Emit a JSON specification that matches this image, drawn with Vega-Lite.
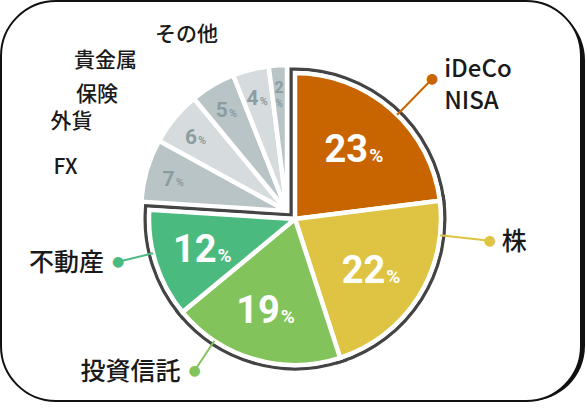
{
  "$schema": "https://vega.github.io/schema/vega-lite/v6.json",
  "width": 580,
  "height": 400,
  "autosize": {"type": "none"},
  "padding": {"left": 1, "top": 1, "right": 6, "bottom": 8},
  "background": "#ffffff",
  "data": {
    "values": [
      {"name": "iDeCo\nNISA", "value": 23, "group": "c"},
      {"name": "株", "value": 22, "group": "c"},
      {"name": "投資信託", "value": 19, "group": "c"},
      {"name": "不動産", "value": 12, "group": "c"},
      {"name": "FX", "value": 7, "group": "g"},
      {"name": "外貨", "value": 6, "group": "g"},
      {"name": "保険", "value": 5, "group": "g"},
      {"name": "貴金属", "value": 4, "group": "g"},
      {"name": "その他", "value": 2, "group": "g"}
    ]
  },
  "layer": [
    {
      "data": {"values": [{}]},
      "mark": {"type": "rect", "fill": "#111", "cornerRadius": 55, "xOffset": 4, "x2Offset": 4, "yOffset": 4, "y2Offset": 4},
      "encoding": {}
    },
    {
      "data": {"values": [{}]},
      "mark": {"type": "rect", "fill": "#fff", "stroke": "#111", "strokeWidth": 2, "cornerRadius": 55},
      "encoding": {}
    },
    {
      "mark": {"type": "arc", "radius": 146, "stroke": "#fff", "strokeWidth": 4.5, "xOffset": -4, "yOffset": 10},
      "encoding": {
        "theta": {"field": "value", "type": "quantitative", "stack": true},
        "order": {"field": "value", "type": "quantitative", "sort": "descending"},
        "color": {
          "field": "name", "type": "nominal", "legend": null,
          "scale": {
            "domain": ["iDeCo\nNISA", "株", "投資信託", "不動産", "FX", "外貨", "保険", "貴金属", "その他"],
            "range": ["#c96500", "#dfc443", "#83c35b", "#4bba7f", "#b9c4c6", "#d6dcde", "#b9c4c6", "#d6dcde", "#b9c4c6"]
          }
        },
        "opacity": {"condition": {"test": "datum.group == 'g'", "value": 1}, "value": 0}
      }
    },
    {
      "mark": {"type": "arc", "radius": 146, "fill": "#444", "stroke": "#444", "strokeWidth": 11, "strokeJoin": "miter", "xOffset": 4, "yOffset": 18},
      "encoding": {
        "theta": {"field": "value", "type": "quantitative", "stack": true},
        "order": {"field": "value", "type": "quantitative", "sort": "descending"},
        "opacity": {"condition": {"test": "datum.group == 'c'", "value": 1}, "value": 0}
      }
    },
    {
      "mark": {"type": "arc", "radius": 146, "fill": "#fff", "stroke": "#fff", "strokeWidth": 4, "strokeJoin": "miter", "xOffset": 4, "yOffset": 18},
      "encoding": {
        "theta": {"field": "value", "type": "quantitative", "stack": true},
        "order": {"field": "value", "type": "quantitative", "sort": "descending"},
        "opacity": {"condition": {"test": "datum.group == 'c'", "value": 1}, "value": 0}
      }
    },
    {
      "mark": {"type": "arc", "radius": 146, "stroke": "#fff", "strokeWidth": 4.5, "xOffset": 4, "yOffset": 18},
      "encoding": {
        "theta": {"field": "value", "type": "quantitative", "stack": true},
        "order": {"field": "value", "type": "quantitative", "sort": "descending"},
        "color": {"field": "name", "type": "nominal", "legend": null},
        "opacity": {"condition": {"test": "datum.group == 'c'", "value": 1}, "value": 0}
      }
    },
    {
      "mark": {"type": "text", "radius": 94, "font": "Roboto", "fontWeight": "bold", "fontSize": 38, "color": "#fff", "align": "right", "baseline": "alphabetic", "dx": 11, "dy": 14, "xOffset": 4, "yOffset": 18},
      "encoding": {
        "theta": {"field": "value", "type": "quantitative", "stack": true},
        "order": {"field": "value", "type": "quantitative", "sort": "descending"},
        "text": {"field": "value", "type": "quantitative"},
        "opacity": {"condition": {"test": "datum.group == 'c'", "value": 1}, "value": 0}
      }
    },
    {
      "mark": {"type": "text", "radius": 94, "font": "Roboto", "fontWeight": "bold", "fontSize": 19, "color": "#fff", "align": "left", "baseline": "alphabetic", "dx": 12, "dy": 14, "xOffset": 4, "yOffset": 18},
      "encoding": {
        "theta": {"field": "value", "type": "quantitative", "stack": true},
        "order": {"field": "value", "type": "quantitative", "sort": "descending"},
        "text": {"value": "%"},
        "opacity": {"condition": {"test": "datum.group == 'c'", "value": 1}, "value": 0}
      }
    },
    {
      "mark": {"type": "text", "radius": 118, "font": "Roboto", "fontWeight": "bold", "fontSize": 21, "color": "#8c9da1", "align": "right", "baseline": "alphabetic", "dx": 1, "dy": 8, "xOffset": -4, "yOffset": 10},
      "encoding": {
        "theta": {"field": "value", "type": "quantitative", "stack": true},
        "order": {"field": "value", "type": "quantitative", "sort": "descending"},
        "text": {"field": "value", "type": "quantitative"},
        "opacity": {"condition": {"test": "datum.group == 'g' && datum.name != 'その他'", "value": 1}, "value": 0}
      }
    },
    {
      "mark": {"type": "text", "radius": 118, "font": "Roboto", "fontWeight": "bold", "fontSize": 11, "color": "#8c9da1", "align": "left", "baseline": "alphabetic", "dx": 2, "dy": 8, "xOffset": -4, "yOffset": 10},
      "encoding": {
        "theta": {"field": "value", "type": "quantitative", "stack": true},
        "order": {"field": "value", "type": "quantitative", "sort": "descending"},
        "text": {"value": "%"},
        "opacity": {"condition": {"test": "datum.group == 'g' && datum.name != 'その他'", "value": 1}, "value": 0}
      }
    },
    {
      "mark": {"type": "text", "radius": 124, "font": "Roboto", "fontWeight": "bold", "fontSize": 16, "color": "#8c9da1", "align": "center", "baseline": "alphabetic", "dy": 6, "xOffset": -4, "yOffset": 10},
      "encoding": {
        "theta": {"field": "value", "type": "quantitative", "stack": true},
        "order": {"field": "value", "type": "quantitative", "sort": "descending"},
        "text": {"field": "value", "type": "quantitative"},
        "opacity": {"condition": {"test": "datum.name == 'その他'", "value": 1}, "value": 0}
      }
    },
    {
      "mark": {"type": "text", "radius": 124, "font": "Roboto", "fontWeight": "bold", "fontSize": 10, "color": "#8c9da1", "align": "center", "baseline": "alphabetic", "dy": 20, "xOffset": -4, "yOffset": 10},
      "encoding": {
        "theta": {"field": "value", "type": "quantitative", "stack": true},
        "order": {"field": "value", "type": "quantitative", "sort": "descending"},
        "text": {"value": "%"},
        "opacity": {"condition": {"test": "datum.name == 'その他'", "value": 1}, "value": 0}
      }
    },
    {
      "mark": {"type": "arc", "radius": 196, "radius2": 146, "padAngle": 1.1648, "fillOpacity": 0, "strokeWidth": 2, "xOffset": 4, "yOffset": 18},
      "encoding": {
        "theta": {"field": "value", "type": "quantitative", "stack": true, "scale": {"range": [0.3115, 4.341]}},
        "order": {"field": "value", "type": "quantitative", "sort": "descending"},
        "stroke": {
          "field": "name", "type": "nominal", "legend": null,
          "scale": {
            "domain": ["iDeCo\nNISA", "株", "投資信託", "不動産", "FX", "外貨", "保険", "貴金属", "その他"],
            "range": ["#c96500", "#dfc443", "#83c35b", "#4bba7f", "#b9c4c6", "#d6dcde", "#b9c4c6", "#d6dcde", "#b9c4c6"]
          }
        },
        "opacity": {"condition": {"test": "datum.name == 'iDeCo\\nNISA' || datum.name == '株'", "value": 1}, "value": 0}
      }
    },
    {
      "mark": {"type": "text", "radius": 196, "font": "DejaVu Sans", "fontSize": 14, "align": "center", "baseline": "middle", "xOffset": 4, "yOffset": 18},
      "encoding": {
        "theta": {"field": "value", "type": "quantitative", "stack": true, "scale": {"range": [0.3115, 4.341]}},
        "order": {"field": "value", "type": "quantitative", "sort": "descending"},
        "text": {"value": "●"},
        "color": {"field": "name", "type": "nominal", "legend": null},
        "opacity": {"condition": {"test": "datum.name == 'iDeCo\\nNISA' || datum.name == '株'", "value": 1}, "value": 0}
      }
    },
    {
      "mark": {"type": "text", "radius": 196, "font": "Noto Sans CJK JP", "fontWeight": 500, "fontSize": 24, "color": "#1a1a1a", "align": "left", "baseline": "middle", "dx": 12, "dy": -9, "lineBreak": "\n", "lineHeight": 32, "xOffset": 4, "yOffset": 18},
      "encoding": {
        "theta": {"field": "value", "type": "quantitative", "stack": true, "scale": {"range": [0.3115, 4.341]}},
        "order": {"field": "value", "type": "quantitative", "sort": "descending"},
        "text": {"field": "name", "type": "nominal"},
        "opacity": {"condition": {"test": "datum.name == 'iDeCo\\nNISA'", "value": 1}, "value": 0}
      }
    },
    {
      "mark": {"type": "text", "radius": 196, "font": "Noto Sans CJK JP", "fontWeight": 500, "fontSize": 25, "color": "#1a1a1a", "align": "left", "baseline": "middle", "dx": 12, "dy": 1, "xOffset": 4, "yOffset": 18},
      "encoding": {
        "theta": {"field": "value", "type": "quantitative", "stack": true, "scale": {"range": [0.3115, 4.341]}},
        "order": {"field": "value", "type": "quantitative", "sort": "descending"},
        "text": {"field": "name", "type": "nominal"},
        "opacity": {"condition": {"test": "datum.name == '株'", "value": 1}, "value": 0}
      }
    },
    {
      "mark": {"type": "arc", "radius": 182, "radius2": 146, "padAngle": 1.1648, "fillOpacity": 0, "strokeWidth": 2, "xOffset": 4, "yOffset": 18},
      "encoding": {
        "theta": {"field": "value", "type": "quantitative", "stack": true, "scale": {"range": [1.0936, 5.9242]}},
        "order": {"field": "value", "type": "quantitative", "sort": "descending"},
        "stroke": {"field": "name", "type": "nominal", "legend": null},
        "opacity": {"condition": {"test": "datum.name == '投資信託' || datum.name == '不動産'", "value": 1}, "value": 0}
      }
    },
    {
      "mark": {"type": "text", "radius": 182, "font": "DejaVu Sans", "fontSize": 14, "align": "center", "baseline": "middle", "xOffset": 4, "yOffset": 18},
      "encoding": {
        "theta": {"field": "value", "type": "quantitative", "stack": true, "scale": {"range": [1.0936, 5.9242]}},
        "order": {"field": "value", "type": "quantitative", "sort": "descending"},
        "text": {"value": "●"},
        "color": {"field": "name", "type": "nominal", "legend": null},
        "opacity": {"condition": {"test": "datum.name == '投資信託' || datum.name == '不動産'", "value": 1}, "value": 0}
      }
    },
    {
      "mark": {"type": "text", "radius": 182, "font": "Noto Sans CJK JP", "fontWeight": 500, "fontSize": 25, "color": "#1a1a1a", "align": "right", "baseline": "middle", "dx": -14, "dy": 1, "xOffset": 4, "yOffset": 18},
      "encoding": {
        "theta": {"field": "value", "type": "quantitative", "stack": true, "scale": {"range": [1.0936, 5.9242]}},
        "order": {"field": "value", "type": "quantitative", "sort": "descending"},
        "text": {"field": "name", "type": "nominal"},
        "opacity": {"condition": {"test": "datum.name == '投資信託' || datum.name == '不動産'", "value": 1}, "value": 0}
      }
    },
    {
      "mark": {"type": "text", "radius": 214, "font": "Noto Sans CJK JP", "fontWeight": 500, "fontSize": 21, "color": "#1a1a1a", "align": "right", "baseline": "middle", "xOffset": -4, "yOffset": 10},
      "encoding": {
        "theta": {"field": "value", "type": "quantitative", "stack": true, "scale": {"range": [2.1555, 5.6287]}},
        "order": {"field": "value", "type": "quantitative", "sort": "descending"},
        "text": {"field": "name", "type": "nominal"},
        "opacity": {"condition": {"test": "datum.name == 'FX' || datum.name == '外貨'", "value": 1}, "value": 0}
      }
    },
    {
      "mark": {"type": "text", "radius": 205, "font": "Noto Sans CJK JP", "fontWeight": 500, "fontSize": 21, "color": "#1a1a1a", "align": "right", "baseline": "middle", "xOffset": -4, "yOffset": 10},
      "encoding": {
        "theta": {"field": "value", "type": "quantitative", "stack": true, "scale": {"range": [0, 5.8085]}},
        "order": {"field": "value", "type": "quantitative", "sort": "descending"},
        "text": {"field": "name", "type": "nominal"},
        "opacity": {"condition": {"test": "datum.name == '保険'", "value": 1}, "value": 0}
      }
    },
    {
      "mark": {"type": "text", "radius": 212, "font": "Noto Sans CJK JP", "fontWeight": 500, "fontSize": 21, "color": "#1a1a1a", "align": "right", "baseline": "middle", "xOffset": -4, "yOffset": 10},
      "encoding": {
        "theta": {"field": "value", "type": "quantitative", "stack": true, "scale": {"range": [0, 5.7269]}},
        "order": {"field": "value", "type": "quantitative", "sort": "descending"},
        "text": {"field": "name", "type": "nominal"},
        "opacity": {"condition": {"test": "datum.name == '貴金属'", "value": 1}, "value": 0}
      }
    },
    {
      "mark": {"type": "text", "radius": 189, "font": "Noto Sans CJK JP", "fontWeight": 500, "fontSize": 21, "color": "#1a1a1a", "align": "right", "baseline": "middle", "xOffset": -4, "yOffset": 10},
      "encoding": {
        "theta": {"field": "value", "type": "quantitative", "stack": true, "scale": {"range": [0, 5.969]}},
        "order": {"field": "value", "type": "quantitative", "sort": "descending"},
        "text": {"field": "name", "type": "nominal"},
        "opacity": {"condition": {"test": "datum.name == 'その他'", "value": 1}, "value": 0}
      }
    }
  ],
  "resolve": {"scale": {"theta": "independent"}},
  "config": {"view": {"stroke": null}}
}
